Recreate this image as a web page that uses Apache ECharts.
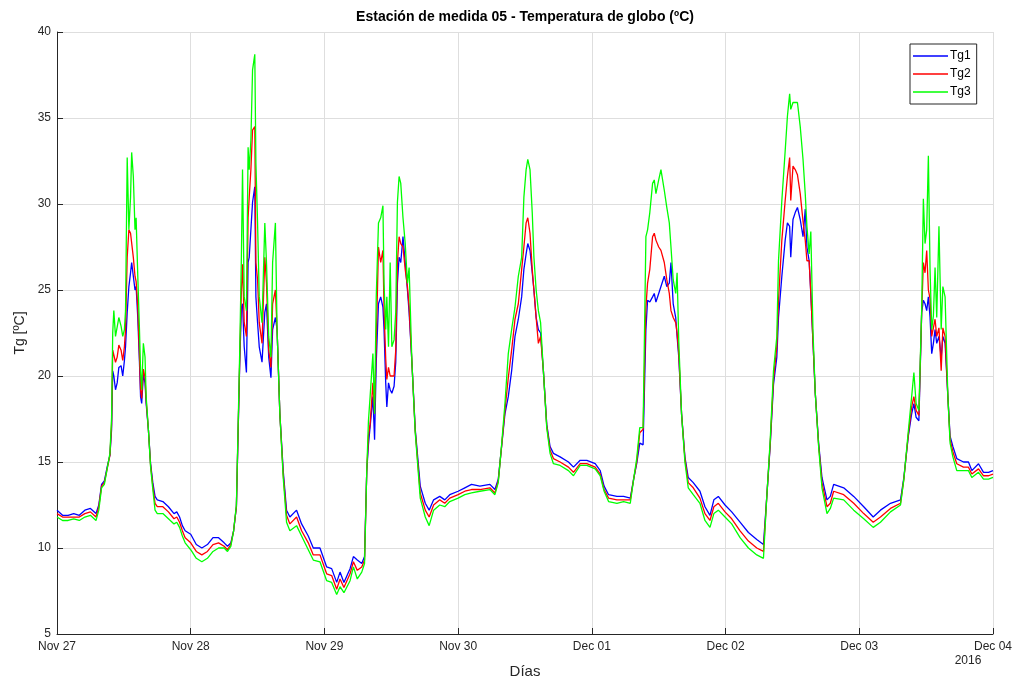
<!DOCTYPE html>
<html>
<head>
<meta charset="utf-8">
<script src="https://cdn.jsdelivr.net/npm/echarts@6/dist/echarts.min.js"></script>
<style>
html,body{margin:0;padding:0;background:#fff;}
#chart{width:1019px;height:684px;}
</style>
</head>
<body>
<div id="chart"></div>
<script>
// Hours elapsed since Nov 27 2016 00:00
const hours = [
0,1,2,3,4,5,6,7,7.5,8,8.5,9,9.5,9.8,10,10.2,10.5,10.8,11.1,11.5,11.8,12.1,12.3,12.6,12.9,13.2,13.4,13.7,14.0,14.2,14.5,14.8,15.0,15.2,15.5,15.8,16.0,16.4,16.8,17.2,17.6,
18,19,20,21,21.5,22,22.5,23,24,25,26,27,28,29,30,30.6,31.2,31.7,32.2,32.8,33.1,33.3,33.6,34.0,34.3,34.5,34.8,35.1,35.5,35.7,36.0,36.3,36.8,37.3,37.6,38.0,38.4,38.7,39.2,39.5,40.0,40.6,
41.2,41.8,43.0,43.9,45.1,46.0,47.2,48.4,49.3,50.2,50.8,51.5,52.6,53.2,53.9,54.7,55.2,55.6,55.9,56.2,56.7,57.0,57.3,57.7,58.1,58.5,58.7,59.0,59.2,59.5,59.8,60.1,60.5,60.8,61.1,61.4,61.7,62.1,62.5,62.9,63.2,63.7,64.3,
65.2,66.1,66.8,67.6,68.7,69.6,70.5,72.0,73.2,74.4,75.9,77.7,78.6,79.2,79.8,80.4,81.0,81.6,82.2,82.8,83.4,83.8,84.2,84.5,84.9,85.3,85.6,86.0,86.4,86.8,87.3,87.9,88.5,89.1,90.3,91.8,92.7,93.9,95.1,96.6,97.5,98.2,99.0,100.5,101.7,102.9,
103.5,104.05,104.6,105.2,105.7,106.0,106.4,106.9,107.2,107.5,108.0,108.4,109.0,109.45,109.9,110.2,110.6,111.05,111.3,111.6,112.1,112.7,113.3,114.2,115.4,116.3,117.2,117.9,118.7,119.9,121.1,122.6,124.1,125.6,126.8,
127.4,128.0,128.6,129.2,129.5,130.1,130.7,131.1,131.5,131.7,132.1,132.5,132.9,133.4,133.9,134.3,134.6,135.0,135.3,135.7,136.1,136.7,137.3,138.2,138.8,139.4,141.2,143.0,144.8,146.5,147.8,149.6,151.4,
152.0,152.8,153.4,153.8,154.2,154.7,155.2,155.5,155.8,156.1,156.4,156.7,157.0,157.3,157.6,157.9,158.3,158.7,159.0,159.4,159.9,160.3,160.8,161.5,162.7,163.6,164.2,165.4,166.3,167.2,168.0
];
const tg1 = [
12.2,11.9,11.9,12.0,11.9,12.2,12.3,12.0,12.5,13.7,13.9,14.7,15.4,16.9,20.3,20.0,19.2,19.6,20.5,20.6,20.0,20.9,21.7,23.7,25.2,26.0,26.6,25.8,25.0,25.2,23.4,20.8,18.8,18.4,20.1,19.6,18.4,16.9,14.9,13.8,13.0,
12.8,12.7,12.4,12.0,12.1,11.8,11.3,11.0,10.8,10.2,10.0,10.2,10.6,10.6,10.3,10.1,10.3,11.0,12.4,20.8,24.0,24.2,21.7,20.2,26.6,26.9,28.5,30.1,31.0,24.6,23.1,21.7,20.8,23.7,24.2,21.1,19.9,22.7,23.4,22.7,17.8,14.5,
12.2,11.8,12.2,11.4,10.7,10.0,10.0,8.9,8.8,8.0,8.6,8.0,8.8,9.5,9.3,9.1,9.5,14.5,16.0,15.9,18.8,16.3,20.8,24.2,24.6,24.0,22.7,19.6,18.2,19.6,19.2,19.0,19.4,20.8,25.4,26.9,26.6,28.1,26.6,25.0,23.7,20.8,16.9,
13.6,12.6,12.2,12.8,13.0,12.8,13.1,13.3,13.5,13.7,13.6,13.7,13.4,14.0,15.9,17.8,18.8,20.3,22.3,23.3,24.6,26.2,27.1,27.7,27.3,26.0,25.0,23.4,22.7,22.5,20.3,17.2,15.9,15.5,15.3,15.0,14.7,15.1,15.1,14.9,14.5,13.6,13.1,13.0,13.0,12.9,
14.0,14.9,16.1,16.0,22.7,24.4,24.3,24.6,24.8,24.3,24.8,25.2,25.8,25.2,25.4,26.6,24.2,23.4,22.3,21.1,17.8,15.3,14.1,13.8,13.3,12.4,11.9,12.8,13.0,12.5,12.1,11.5,10.9,10.5,10.2,
13.0,15.9,19.5,21.1,23.4,25.8,27.9,28.9,28.7,26.9,29.1,29.5,29.8,29.1,28.1,29.7,27.5,26.7,24.8,21.9,19.0,16.1,14.1,12.8,13.0,13.7,13.5,13.0,12.4,11.8,12.2,12.6,12.8,
14.1,16.5,17.8,18.4,17.6,17.4,23.7,24.4,24.2,23.8,24.6,23.4,21.3,21.9,22.7,21.9,22.3,21.1,22.3,21.9,18.8,16.5,15.9,15.2,15.0,15.0,14.5,14.9,14.4,14.4,14.5
];
const tg2 = [
12.0,11.8,11.8,11.8,11.8,12.0,12.1,11.8,12.4,13.6,13.8,14.6,15.4,17.2,21.5,21.6,20.8,21.1,21.8,21.5,20.9,21.7,22.7,26.9,28.5,28.3,28.4,26.9,25.8,25.5,24.0,21.2,19.2,18.7,20.4,19.9,18.6,16.9,14.8,13.6,12.6,
12.4,12.4,12.1,11.7,11.8,11.5,11.0,10.6,10.3,9.8,9.6,9.8,10.2,10.3,10.1,9.9,10.2,11.0,12.4,21.0,25.0,26.5,23.1,22.3,29.2,30.4,32.0,34.3,34.5,26.6,25.6,23.1,21.9,26.9,25.4,21.5,20.5,24.2,25.0,22.7,17.8,14.3,
11.9,11.4,11.8,11.0,10.3,9.6,9.6,8.5,8.4,7.6,8.2,7.7,8.5,9.2,8.7,8.9,9.3,14.5,16.5,17.2,19.6,17.8,22.0,27.5,26.6,27.3,23.9,21.0,19.8,20.5,20.0,19.9,20.0,21.5,26.6,28.1,27.7,27.5,26.2,25.2,24.0,20.8,16.8,
13.2,12.2,11.8,12.5,12.8,12.6,12.9,13.1,13.3,13.4,13.4,13.5,13.2,13.9,15.9,18.0,19.9,21.5,23.3,24.2,26.2,27.5,28.9,29.2,28.3,26.2,25.0,23.4,21.9,22.3,20.3,17.1,15.7,15.2,15.0,14.7,14.4,14.9,14.9,14.7,14.3,13.4,12.9,12.8,12.8,12.8,
14.0,15.0,16.7,16.9,24.0,25.4,26.2,28.1,28.3,27.9,27.5,27.3,26.6,25.6,24.8,23.8,23.4,23.1,22.5,21.3,17.8,15.2,13.8,13.5,12.9,12.0,11.6,12.4,12.6,12.1,11.7,11.0,10.4,10.0,9.8,
13.0,16.0,19.8,21.7,24.4,27.9,30.2,31.6,32.7,30.2,32.2,32.0,31.7,30.6,29.0,27.9,26.7,26.7,24.8,21.9,19.0,16.0,13.8,12.4,12.6,13.3,13.1,12.6,12.0,11.5,11.8,12.3,12.6,
14.0,16.6,18.2,18.8,18.0,17.7,23.7,26.6,26.0,27.3,25.0,24.5,22.3,22.8,23.3,22.3,22.8,20.3,22.8,22.3,18.8,16.3,15.6,14.9,14.7,14.7,14.3,14.6,14.2,14.2,14.3
];
const tg3 = [
11.8,11.6,11.6,11.7,11.6,11.8,11.9,11.6,12.2,13.5,13.7,14.6,15.5,17.6,22.5,23.8,22.3,22.2,23.4,22.9,22.3,22.7,23.8,32.7,28.5,30.4,33.0,31.6,28.5,29.2,25.8,22.7,20.3,19.2,21.9,21.1,18.8,16.9,14.7,13.4,12.2,
12.0,12.0,11.7,11.4,11.5,11.2,10.7,10.3,9.9,9.4,9.2,9.4,9.8,10.0,10.0,9.8,10.1,11.0,12.5,21.5,27.0,32.0,24.6,23.8,33.3,32.0,33.7,37.8,38.7,32.4,28.9,24.6,23.1,28.9,26.6,22.3,21.1,26.6,28.9,22.7,17.8,14.1,
11.5,11.0,11.3,10.7,9.9,9.3,9.2,8.1,8.0,7.3,7.75,7.4,8.1,8.9,8.2,8.6,9.1,14.5,17.4,18.8,21.3,17.8,24.6,28.9,29.2,29.9,25.4,22.7,24.6,21.7,26.6,21.7,22.1,23.7,30.1,31.6,31.2,29.2,27.7,25.4,26.3,20.8,16.7,
12.9,11.8,11.3,12.2,12.5,12.4,12.7,12.9,13.1,13.2,13.3,13.4,13.1,13.8,16.0,18.4,21.3,22.7,24.0,25.8,26.9,30.4,32.0,32.6,32.0,29.5,26.9,25.0,23.8,23.1,20.3,17.0,15.5,14.9,14.8,14.5,14.2,14.8,14.8,14.6,14.2,13.3,12.7,12.6,12.7,12.6,
14.0,15.2,17.0,17.0,28.1,28.5,29.5,31.2,31.4,30.6,31.4,32.0,30.8,29.8,28.9,27.5,25.6,24.8,26.0,22.0,17.8,15.0,13.5,13.1,12.6,11.6,11.2,12.0,12.2,11.8,11.4,10.6,10.0,9.6,9.4,
13.0,16.2,20.3,22.3,26.7,30.2,33.1,35.1,36.4,35.5,35.9,35.9,35.9,34.5,32.6,30.6,28.7,27.1,28.4,22.5,19.0,15.9,13.5,12.0,12.3,12.9,12.8,12.2,11.7,11.2,11.5,12.1,12.5,
14.0,16.8,18.8,20.2,18.4,18.0,23.9,30.3,27.7,28.5,32.8,26.2,22.7,23.5,26.3,23.4,28.7,22.7,25.2,24.6,18.8,16.1,15.3,14.5,14.5,14.5,14.1,14.4,14.0,14.0,14.1
];
const dayLabels = ['Nov 27','Nov 28','Nov 29','Nov 30','Dec 01','Dec 02','Dec 03','Dec 04'];
const seriesNames = ['Tg1','Tg2','Tg3'];
const seriesColors = ['#0000ff','#ff0000','#00ff00'];

const FONT = '"Liberation Sans", Arial, Helvetica, sans-serif';
const chart = echarts.init(document.getElementById('chart'), null, {renderer:'canvas'});
function pairs(vals){ return hours.map((h,i)=>[h, vals[i]]); }
const allVals = [tg1, tg2, tg3];

chart.setOption({
  animation:false,
  backgroundColor:'#ffffff',
  grid:{left:57, right:26, top:32, bottom:50, containLabel:false},
  legend:{
    data:seriesNames.map(n=>({name:n, icon:'rect'})),
    orient:'vertical', left:910, top:44,
    itemWidth:35, itemHeight:1.5, itemGap:4,
    padding:[5,6,5,3],
    borderColor:'#262626', borderWidth:1, backgroundColor:'#ffffff',
    textStyle:{fontFamily:FONT, fontSize:12, color:'#000', padding:[0,0,0,-3], lineHeight:14}
  },
  xAxis:{
    type:'value', min:0, max:168, interval:24,
    name:'Días', nameLocation:'middle', nameGap:30,
    nameTextStyle:{fontFamily:FONT, fontSize:15, color:'#262626'},
    axisLine:{show:true, lineStyle:{color:'#262626', width:1}},
    axisTick:{show:true, inside:true, length:6, lineStyle:{color:'#262626'}},
    axisLabel:{fontFamily:FONT, fontSize:12, color:'#262626', margin:7,
      formatter:function(v){ return dayLabels[Math.round(v/24)]; }},
    splitLine:{show:true, lineStyle:{color:'#dedede', width:1}}
  },
  yAxis:{
    type:'value', min:5, max:40, interval:5,
    name:'Tg [ºC]', nameLocation:'middle', nameGap:30, nameRotate:90,
    nameTextStyle:{fontFamily:FONT, fontSize:14, color:'#262626'},
    axisLine:{show:true, lineStyle:{color:'#262626', width:1}},
    axisTick:{show:true, inside:true, length:6, lineStyle:{color:'#262626'}},
    axisLabel:{fontFamily:FONT, fontSize:12, color:'#262626', margin:6},
    splitLine:{show:true, lineStyle:{color:'#dedede', width:1}}
  },
  graphic:[
    {type:'text', x:525, y:17, style:{text:'Estación de medida 05 - Temperatura de globo (ºC)', font:'bold 14px '+FONT, fill:'#000', textAlign:'center', textVerticalAlign:'middle'}},
    {type:'text', x:968, y:661, style:{text:'2016', font:'12px '+FONT, fill:'#262626', textAlign:'center', textVerticalAlign:'middle'}}
  ],
  series: seriesNames.map((n,k)=>({
    name:n, type:'line', data:pairs(allVals[k]),
    symbol:'none', showSymbol:false, sampling:null,
    lineStyle:{color:seriesColors[k], width:1.3},
    itemStyle:{color:seriesColors[k]},
    z: 2+k
  }))
});
</script>
</body>
</html>
